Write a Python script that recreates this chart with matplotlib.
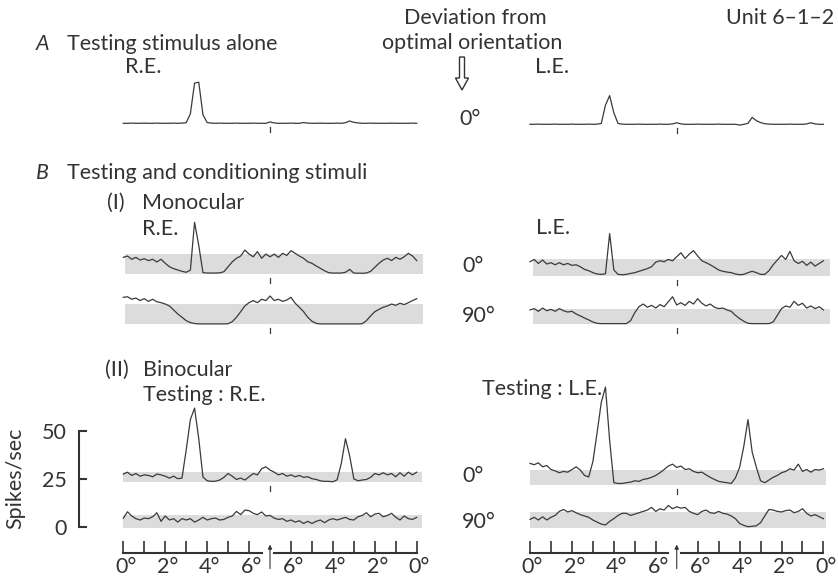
#!/usr/bin/env python3
"""Orientation sweep histograms for unit 6-1-2: testing stimulus alone (A)
and with conditioning stimuli, monocular (B I) and binocular (B II)."""

import matplotlib

matplotlib.use("Agg")
import matplotlib.pyplot as plt
import numpy as np
from matplotlib.patches import FancyArrow
from matplotlib.transforms import ScaledTranslation

W, H = 838, 581
PXDEG = 20.96     # px per degree of sweep
PXU = 1.913       # px per spike/sec

plt.rcParams["font.family"] = ["Lato", "DejaVu Sans"]
INK = "#333333"
LINE = "#3a3a3a"
BAND = "#dcdcdc"
FS = 15.5

# sweep position (deg of travel): 0 -> 7 forward, 7 -> 14 back to 0
T = np.round(np.arange(0, 14.01, 0.2), 1)

FWD_TICKS = [0, 2, 4, 6]
FWD_MINOR = [1, 3, 5]
BACK_TICKS = [8, 10, 12, 14]
BACK_MINOR = [9, 11, 13]
FWD_LABELS = ["0°", "2°", "4°", "6°"]
BACK_LABELS = ["6°", "4°", "2°", "0°"]
SCALE_TICKS = [0, 25, 50]

# A: testing stimulus alone (spikes/sec)
A_RE = [0, 0, 0.1, 0, 0, 0.1, 0, 0, 0.1, 0, 0, 0, 0.1, 0, 0.1, 0.3, 5, 21, 21.5, 4.5, 0.4, 0.1,
        0, 0.1, 0, 0, 0, 0.1, 0, 0, 0, 0.1, 0, 0, 0,
        0.7, 0.2,
        0, 0, 0, 0.1, 0, 0,
        0.4, 0.1,
        0, 0, 0.1, 0, 0, 0, 0.1, 0, 0.3,
        1.2, 0.5, 0.2,
        0, 0, 0.1, 0, 0, 0, 0, 0.1, 0, 0, 0, 0, 0.1, 0]
A_LE = [0, 0, 0.1, 0, 0, 0, 0.1, 0, 0, 0, 0.1, 0, 0, 0, 0.1, 0, 0.1,
        0.4, 10, 15, 6, 0.4,
        0.1, 0, 0, 0, 0.1, 0, 0, 0, 0, 0.1, 0, 0, 0.2,
        0.8, 0.2,
        0, 0, 0, 0.1, 0, 0, 0, 0, 0.1, 0, 0, 0, 0,
        -0.4, 0, 0.5, 3.6, 1.9, 0.9, 0.3,
        0.1, 0, 0, 0, 0, 0.1, 0, 0, 0, 0.2, 0.8, 0.2, 0, 0]

# B (I) monocular conditioning
MONO_RE_0 = [8.7, 9.4, 7.7, 8.7, 7.3, 8.0, 7.0, 7.7, 6.3, 7.7,
             5.6, 3.8, 2.8, 2.1, 1.4, 0.9, 2, 27, 15, 0.7,
             0.5, 0.5, 0.5, 0.6, 1.2, 3.8, 6.4, 8.2, 9.4, 12.5,
             10.4, 9.0, 11.7, 8.2, 10.4, 9.0, 10.4, 8.7, 10.8, 9.7,
             12.2, 10.8, 9.4, 8.2, 6.4, 5.6, 4.2, 3.0, 1.7, 0.7,
             0.5, 0.5, 0.5, 0.9, 2.4, 0.5, 0.4, 0.4, 0.5, 1.4,
             3.5, 5.6, 7.3, 8.2, 7.0, 8.7, 7.7, 9.0, 10.8, 9.4,
             7.0]
MONO_RE_90 = [14.1, 14.4, 13.1, 13.7, 12.4, 13.4, 12.0, 13.1, 11.8, 11.3,
              10.6, 9.6, 7.5, 5.4, 3.7, 1.9, 0.9, 0.4, 0.2, 0.2,
              0.2, 0.2, 0.2, 0.2, 0.2, 0.3, 1.4, 3.7, 6.6, 9.6,
              11.3, 12.4, 11.3, 13.1, 12.4, 14.8, 12.4, 13.1, 12.0, 12.7,
              14.1, 11.0, 8.9, 6.6, 3.7, 1.6, 0.5, 0.2, 0.2, 0.2,
              0.2, 0.2, 0.2, 0.2, 0.2, 0.2, 0.2, 0.3, 1.9, 4.4,
              6.6, 7.8, 8.9, 9.6, 10.6, 9.9, 11.0, 10.3, 11.3, 12.4,
              13.4]
MONO_LE_0 = [7.3, 8.5, 6.4, 8.2, 6.1, 6.8, 5.7, 6.8, 5.7, 6.4,
             5.4, 5.7, 4.7, 3.3, 2.6, 1.6, 0.9, 0.7, 1.0, 22,
             3, 0.7, 0.5, 0.7, 1.2, 1.6, 2.3, 3.0, 3.7, 4.7,
             7.1, 7.8, 7.3, 8.5, 7.8, 9.9, 12.0, 9.0, 11.3, 13.1,
             10.3, 7.8, 6.8, 5.7, 4.4, 3.0, 2.3, 1.9, 1.6, 0.9,
             0.5, 0.7, 1.6, 2.3, 1.6, 0.7, 0.7, 2.6, 5.7, 8.2,
             10.6, 8.5, 12.7, 7.8, 6.4, 7.5, 5.4, 7.1, 5.0, 6.4,
             7.8]
MONO_LE_90 = [7.5, 8.2, 6.8, 8.5, 7.1, 7.8, 6.8, 8.2, 7.1, 6.4,
              6.8, 5.4, 4.4, 3.3, 2.3, 1.2, 0.5, 0.35, 0.35, 0.35,
              0.35, 0.35, 0.35, 0.35, 1.9, 6.1, 9.2, 10.6, 8.9, 9.9,
              8.5, 10.3, 9.2, 11.8, 14.4, 10.1, 11.3, 9.9, 12.0, 10.6,
              13.4, 11.0, 9.6, 10.6, 8.9, 8.2, 8.5, 7.5, 6.8, 4.7,
              3.0, 1.6, 0.5, 0.35, 0.35, 0.35, 0.35, 0.35, 1.2, 4.7,
              8.2, 9.6, 8.9, 12.0, 9.9, 11.0, 8.5, 9.6, 8.2, 9.2,
              7.5]

# B (II) binocular conditioning
BIN_RE_0 = [27.5, 28.5, 26.8, 27.8, 26.4, 27.1, 26.8, 26.1, 27.5, 27.1,
            26.4, 25.4, 26.4, 25.1, 25.4, 40, 56, 62, 46, 26,
            24.0, 23.7, 23.8, 24.4, 25.8, 27.8, 26.4, 24.7, 25.4, 24.4,
            26.1, 27.8, 27.1, 30.3, 31.3, 29.6, 28.5, 27.1, 27.8, 26.4,
            27.1, 26.1, 26.8, 25.8, 26.1, 25.1, 24.7, 24.0, 23.7, 23.7,
            23.5, 24.5, 33, 46, 37, 25, 24.0, 24.4, 24.7, 25.8,
            27.8, 27.1, 28.2, 27.1, 27.8, 26.1, 28.2, 26.4, 28.5, 27.1,
            28.5]
BIN_RE_90 = [4.4, 7.8, 5.6, 4.2, 3.5, 4.5, 4.2, 5.2, 7.3, 2.8,
             5.6, 3.5, 4.2, 2.4, 4.2, 3.5, 4.2, 2.4, 3.5, 4.9,
             3.5, 4.2, 4.5, 3.5, 3.8, 4.9, 5.6, 8.0, 6.3, 8.7,
             8.4, 7.0, 6.3, 7.7, 5.6, 5.9, 4.5, 3.8, 4.2, 2.8,
             3.5, 2.4, 3.1, 1.7, 2.8, 1.7, 2.8, 3.5, 2.1, 3.5,
             4.2, 3.5, 4.2, 4.9, 3.8, 3.5, 5.2, 5.9, 7.3, 5.2,
             6.6, 7.0, 5.2, 5.9, 7.0, 4.9, 3.5, 5.6, 4.2, 3.8,
             4.9]
BIN_LE_0 = [33.1, 32.4, 33.4, 31.3, 32.0, 29.9, 29.2, 28.2, 28.9, 28.5,
            29.9, 31.3, 29.6, 26.8, 26, 34, 49, 65, 73, 45,
            23, 22.6, 22.6, 23.0, 23.3, 24.0, 23.7, 24.7, 25.1, 25.8,
            26.8, 28.2, 29.9, 31.7, 32.7, 31.0, 31.7, 29.9, 30.3, 28.9,
            28.2, 28.5, 27.1, 25.8, 24.7, 23.7, 23.3, 23.0, 22.6, 25.5,
            31, 42, 56, 39, 31, 24, 23.0, 24.4, 25.8, 26.8,
            28.2, 28.9, 30.3, 29.6, 32.7, 28.9, 29.9, 28.5, 29.9, 29.6,
            30.3]
BIN_LE_90 = [3.8, 4.9, 3.5, 5.2, 3.5, 4.9, 5.9, 8.0, 9.0, 7.7,
             8.4, 7.3, 6.3, 5.6, 4.9, 3.5, 2.4, 1.4, 0.9, 2.8,
             4.2, 5.9, 7.0, 7.0, 5.9, 6.6, 7.3, 8.0, 8.7, 10.1,
             8.0, 9.4, 8.7, 11.1, 9.4, 10.4, 9.7, 10.1, 8.0, 7.0,
             6.3, 8.0, 8.7, 7.3, 7.0, 8.0, 7.0, 6.6, 5.6, 4.2,
             1.7, 0.7, 0.0, 0.2, 0.5, 2.1, 5.6, 9.0, 8.7, 8.0,
             7.7, 8.4, 8.7, 7.3, 8.0, 9.4, 7.0, 5.6, 6.3, 5.2,
             4.2]

# spontaneous-activity bands (spikes/sec)
MONO_RE_0_BAND = (0, 10.5)
MONO_RE_90_BAND = (0, 10.6)
MONO_LE_0_BAND = (0, 8.7)
MONO_LE_90_BAND = (0, 8.0)
BIN_RE_0_BAND = (23.2, 28.7)
BIN_RE_90_BAND = (-0.7, 6.1)
BIN_LE_0_BAND = (21.8, 29.6)
BIN_LE_90_BAND = (-0.8, 7.8)

LEFT_X0 = 123.3
RIGHT_X0 = 530.0


def ftext(fig, x, y, s, **kw):
    kw.setdefault("fontsize", FS)
    kw.setdefault("color", INK)
    kw.setdefault("va", "center")
    fig.text(x / W, 1 - y / H, s, **kw)


def trace_axes(fig, x0, zero_y, t0, t1, lo=-10, hi=80):
    left = x0 + PXDEG * t0
    bottom = zero_y - PXU * lo
    ax = fig.add_axes([left / W, 1 - bottom / H, PXDEG * (t1 - t0) / W, PXU * (hi - lo) / H])
    ax.set_xlim(t0, t1)
    ax.set_ylim(lo, hi)
    ax.axis("off")
    return ax


def draw_trace(fig, x0, zero_y, values, band=None, mark=True, span=(0.05, 14.25)):
    ax = trace_axes(fig, x0, zero_y, *span)
    if band is not None:
        ax.axhspan(band[0], band[1], color=BAND, lw=0, zorder=1)
    ax.plot(T, values, color=LINE, lw=0.9, zorder=3, clip_on=False)
    if mark:
        base = band[0] if band is not None else 0
        ax.plot([7, 7], [base - 4 / PXU, base - 9 / PXU], color=LINE, lw=0.9)
    return ax


def sweep_axis(fig, x0):
    parts = [((0, 6.6), FWD_TICKS, FWD_MINOR, FWD_LABELS),
             ((7.2, 14), BACK_TICKS, BACK_MINOR, BACK_LABELS)]
    for (a, b), major, minor, labels in parts:
        ax = fig.add_axes([(x0 + PXDEG * a) / W, 1 - 553 / H, PXDEG * (b - a) / W, 12 / H])
        ax.set_xlim(a, b)
        for s in ("top", "left", "right"):
            ax.spines[s].set_visible(False)
        ax.spines["bottom"].set_linewidth(1.5)
        ax.spines["bottom"].set_color(INK)
        ax.set_yticks([])
        ax.set_xticks(major)
        ax.set_xticklabels(labels, fontsize=FS, color=INK)
        ax.set_xticks(minor, minor=True)
        ax.tick_params(axis="x", which="both", direction="in", length=8.3,
                       width=1.2, color=INK, pad=3)
        shift = ScaledTranslation(2.5 / 100, 0, fig.dpi_scale_trans)
        for lab in ax.get_xticklabels():
            lab.set_transform(lab.get_transform() + shift)
        ax.patch.set_visible(False)
        if a == 0:
            ax.annotate("", xy=(7, 0.7), xytext=(7, -1.3),
                        xycoords=("data", "axes fraction"),
                        textcoords=("data", "axes fraction"),
                        annotation_clip=False,
                        arrowprops=dict(arrowstyle="-|>", lw=0.8, color=INK,
                                        mutation_scale=6, shrinkA=0, shrinkB=0))


def main():
    fig = plt.figure(figsize=(W / 100, H / 100), dpi=100)
    fig.patch.set_facecolor("white")

    # header
    ftext(fig, 475, 18, "Deviation from", ha="center")
    ftext(fig, 472, 43, "optimal orientation", ha="center")
    ftext(fig, 780, 18, "Unit 6–1–2", ha="center")
    fig.add_artist(FancyArrow(462 / 100, (H - 57) / 100, 0, -33 / 100,
                              width=5 / 100, head_width=13 / 100, head_length=12 / 100,
                              length_includes_head=True, fill=False, lw=1.0,
                              edgecolor=INK, transform=fig.dpi_scale_trans))

    # A
    ftext(fig, 36, 44, "A", style="italic")
    ftext(fig, 67, 44, "Testing stimulus alone")
    ftext(fig, 125, 67, "R.E.")
    ftext(fig, 535, 67, "L.E.")
    ftext(fig, 470, 119, "0°", ha="center")
    draw_trace(fig, LEFT_X0, 123.3, A_RE, span=(0.08, 14.15))
    draw_trace(fig, RIGHT_X0, 124.3, A_LE, span=(0.16, 14.3))

    # B (I)
    ftext(fig, 36, 173, "B", style="italic")
    ftext(fig, 67, 173, "Testing and conditioning stimuli")
    ftext(fig, 107, 203, "(I)")
    ftext(fig, 142, 203, "Monocular")
    ftext(fig, 142, 229, "R.E.")
    ftext(fig, 536, 228, "L.E.")
    ftext(fig, 473, 266, "0°", ha="center")
    ftext(fig, 479, 316, "90°", ha="center")
    draw_trace(fig, LEFT_X0, 274.0, MONO_RE_0, MONO_RE_0_BAND, span=(0.1, 14.3))
    draw_trace(fig, LEFT_X0, 324.3, MONO_RE_90, MONO_RE_90_BAND, span=(0.1, 14.3))
    draw_trace(fig, RIGHT_X0, 275.7, MONO_LE_0, MONO_LE_0_BAND, span=(0.15, 14.3))
    draw_trace(fig, RIGHT_X0, 324.3, MONO_LE_90, MONO_LE_90_BAND, span=(0.15, 14.3))

    # B (II)
    ftext(fig, 105, 370, "(II)")
    ftext(fig, 143, 370, "Binocular")
    ftext(fig, 143, 395, "Testing : R.E.")
    ftext(fig, 482, 389, "Testing : L.E.")
    ftext(fig, 473, 476, "0°", ha="center")
    ftext(fig, 479, 522, "90°", ha="center")
    draw_trace(fig, LEFT_X0, 526.7, BIN_RE_0, BIN_RE_0_BAND, span=(-0.03, 14.24))
    draw_trace(fig, LEFT_X0, 526.7, BIN_RE_90, BIN_RE_90_BAND, mark=False, span=(-0.03, 14.24))
    draw_trace(fig, RIGHT_X0, 526.7, BIN_LE_0, BIN_LE_0_BAND, span=(0.0, 14.13))
    draw_trace(fig, RIGHT_X0, 526.7, BIN_LE_90, BIN_LE_90_BAND, mark=False, span=(0.0, 14.13))

    # spikes/sec scale bar
    axs = fig.add_axes([79 / W, 1 - 526.7 / H, 10 / W, 50 * PXU / H])
    axs.set_ylim(0, 50)
    axs.set_xticks([])
    axs.set_yticks(SCALE_TICKS)
    for s in ("top", "right", "bottom"):
        axs.spines[s].set_visible(False)
    axs.spines["left"].set_linewidth(1.5)
    axs.spines["left"].set_color(INK)
    axs.tick_params(axis="y", direction="in", length=6, width=1.5, color=INK,
                    pad=9, labelsize=FS, labelcolor=INK)
    axs.patch.set_visible(False)
    ftext(fig, 15, 478, "Spikes/sec", rotation=90, ha="center")

    sweep_axis(fig, LEFT_X0)
    sweep_axis(fig, RIGHT_X0)

    fig.savefig("out.png", dpi=100, facecolor="white")
    plt.close(fig)


if __name__ == "__main__":
    main()
